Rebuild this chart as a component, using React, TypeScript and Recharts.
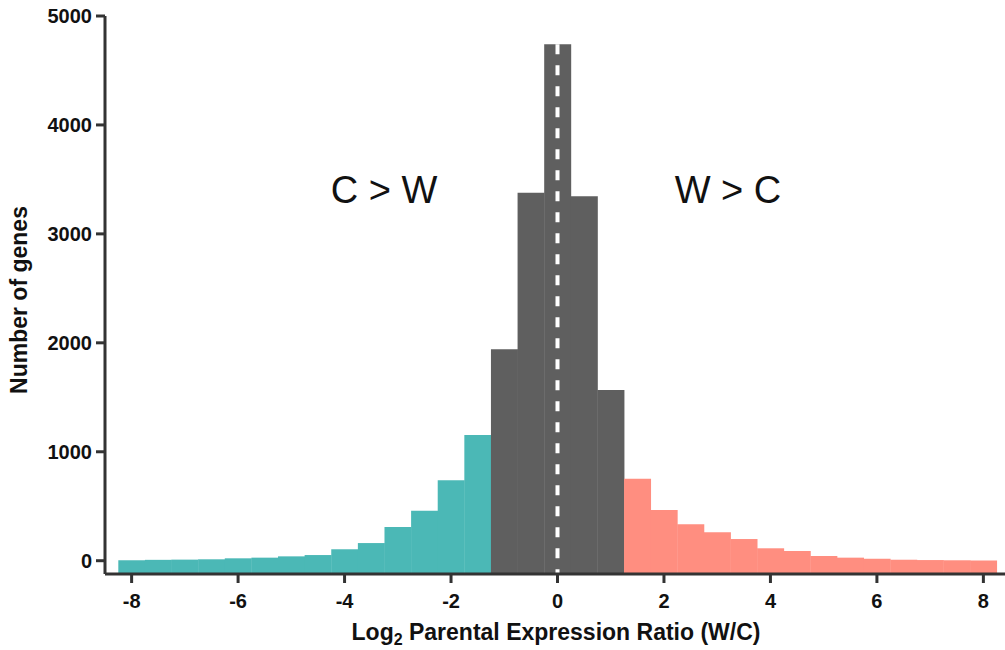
import { BarChart, Bar, XAxis, YAxis, Cell, ReferenceLine } from 'recharts';

// histogram bins (log2 W/C), bin width 0.5
const BIN_CENTERS = [
  -8, -7.5, -7, -6.5, -6, -5.5, -5, -4.5, -4, -3.5, -3, -2.5, -2, -1.5,
  -1, -0.5, 0, 0.5, 1,
  1.5, 2, 2.5, 3, 3.5, 4, 4.5, 5, 5.5, 6, 6.5, 7, 7.5, 8,
];
const GENE_COUNTS = [
  5, 8, 10, 13, 22, 28, 40, 52, 105, 162, 309, 459, 738, 1153,
  1942, 3377, 4740, 3346, 1566,
  752, 465, 334, 261, 199, 114, 89, 43, 28, 18, 9, 6, 4, 2,
];
const X_TICKS = [-8, -6, -4, -2, 0, 2, 4, 6, 8];
const Y_TICKS = [0, 1000, 2000, 3000, 4000, 5000];

const CUTOFF = 1.25;
const Y_FLOOR = -122;

const TEAL = '#4bb8b6';
const GREY = '#5f5f5f';
const PINK = '#ff8e80';
const AXIS = '#333333';
const FONT = '"Liberation Sans", Arial, sans-serif';

const data = BIN_CENTERS.map((x, i) => ({ x, count: GENE_COUNTS[i] }));
const peak = GENE_COUNTS[BIN_CENTERS.indexOf(0)];

const binColor = (x: number) => (x < -CUTOFF ? TEAL : x > CUTOFF ? PINK : GREY);

const tickStyle = { fill: '#111', fontSize: 20, fontWeight: 700, fontFamily: FONT };

export default function App() {
  return (
    <div style={{ position: 'absolute', left: 0, top: 0, width: 1005, height: 650, overflow: 'hidden', background: '#fff' }}>
      <BarChart
        width={1020}
        height={650}
        data={data}
        margin={{ top: 16, right: 10, left: 10, bottom: 0 }}
        barCategoryGap={0}
        barGap={0}
      >
        <XAxis
          type="number"
          dataKey="x"
          domain={[-8.5, 8.5]}
          ticks={X_TICKS}
          allowDataOverflow
          height={76}
          tick={tickStyle}
          tickSize={9}
          tickMargin={11}
          axisLine={{ stroke: AXIS, strokeWidth: 3 }}
          tickLine={{ stroke: AXIS, strokeWidth: 3 }}
        />
        <YAxis
          type="number"
          domain={[Y_FLOOR, 5000]}
          ticks={Y_TICKS}
          allowDataOverflow
          width={95}
          tick={tickStyle}
          tickSize={9}
          tickMargin={4}
          axisLine={{ stroke: AXIS, strokeWidth: 3 }}
          tickLine={{ stroke: AXIS, strokeWidth: 3 }}
        />
        <Bar dataKey={(d: { count: number }) => [Y_FLOOR, d.count]} isAnimationActive={false}>
          {data.map((d) => (
            <Cell key={d.x} fill={binColor(d.x)} />
          ))}
        </Bar>
        <ReferenceLine
          segment={[{ x: 0, y: peak }, { x: 0, y: Y_FLOOR }]}
          stroke="#fff"
          strokeWidth={4}
          strokeDasharray="10 11"
        />
        <text x={384} y={203} textAnchor="middle" fontSize={38} fontFamily={FONT} fill="#111">C &gt; W</text>
        <text x={728} y={203} textAnchor="middle" fontSize={38} fontFamily={FONT} fill="#111">W &gt; C</text>
        <text x={556} y={640} textAnchor="middle" fontSize={23} fontWeight={700} fontFamily={FONT} fill="#111">
          Log<tspan fontSize={16} dy={5}>2</tspan><tspan dy={-5}> Parental Expression Ratio (W/C)</tspan>
        </text>
        <text
          x={27}
          y={300}
          transform="rotate(-90 27 300)"
          textAnchor="middle"
          fontSize={23}
          fontWeight={700}
          fontFamily={FONT}
          fill="#111"
        >
          Number of genes
        </text>
      </BarChart>
    </div>
  );
}
